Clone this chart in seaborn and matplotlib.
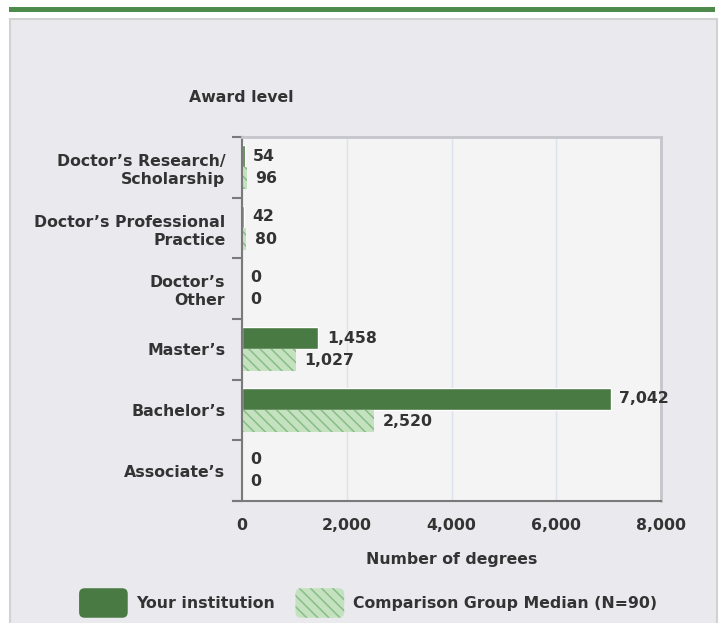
import seaborn as sns
import matplotlib.pyplot as plt
import numpy as np
import pandas as pd
from matplotlib.patches import Rectangle, Patch, FancyBboxPatch
from matplotlib.legend_handler import HandlerPatch

categories = ["Doctor’s Research/\nScholarship", "Doctor’s Professional\nPractice",
              "Doctor’s\nOther", "Master’s", "Bachelor’s", "Associate’s"]
your_inst = [54, 42, 0, 1458, 7042, 0]
comparison = [96, 80, 0, 1027, 2520, 0]
series = ["Your institution", "Comparison Group Median (N=90)"]
xticks = [0, 2000, 4000, 6000, 8000]

dark_green = '#4a7a43'
light_green = '#c4e2c0'
hatch_green = '#88bd85'
text_col = '#333333'

df = pd.DataFrame({
    'level': categories * 2,
    'series': [series[0]] * len(categories) + [series[1]] * len(categories),
    'value': your_inst + comparison,
})

sns.set_style('white')
plt.rcParams['font.family'] = ['DejaVu Sans']
plt.rcParams['font.weight'] = 'bold'
plt.rcParams['hatch.color'] = hatch_green
plt.rcParams['hatch.linewidth'] = 1.1
fs = 11.3

fig = plt.figure(figsize=(7.23, 6.23), dpi=100, facecolor='white')
# panel background + green header line
fig.patches.append(Rectangle((10/723, -0.01), 707/723, (623-19)/623 + 0.01, transform=fig.transFigure,
                             facecolor='#e9e9ee', edgecolor='#d2d2d2', lw=1.5, zorder=-2))
fig.patches.append(Rectangle((9/723, 1-12/623), 706/723, 5/623, transform=fig.transFigure,
                             facecolor='#4e8a4b', edgecolor='none', zorder=-2))

ax = fig.add_axes([242/723, 1-501/623, (661-242)/723, (501-137)/623])
sns.barplot(data=df, y='level', x='value', hue='series', orient='h', width=0.73,
            palette={series[0]: dark_green, series[1]: light_green},
            saturation=1, legend=False, ax=ax)

for bar in ax.containers[1]:
    bar.set_hatch('\\\\\\')
    bar.set_edgecolor(hatch_green)
    bar.set_linewidth(0)

for cont, vals in zip(ax.containers, [your_inst, comparison]):
    ax.bar_label(cont, labels=[f"{v:,}" for v in vals], padding=6,
                 fontsize=fs, fontweight='bold', color=text_col)

ax.set_facecolor('#f4f4f4')
ax.set_xlim(0, 8000)
ax.set_xticks(xticks)
ax.set_xticklabels([f"{t:,}" for t in xticks], fontsize=fs, color=text_col)
ax.set_yticks(range(len(categories)))
ax.set_yticklabels(categories, fontsize=fs, color=text_col, linespacing=1.25)
ax.set_yticks(np.arange(-0.5, len(categories), 1), minor=True)
ax.tick_params(axis='y', which='major', left=False, length=0, pad=12)
ax.tick_params(axis='y', which='minor', left=True, length=7, width=1.5, color='#7a7a7a')
ax.tick_params(axis='x', length=0, pad=12)
ax.xaxis.grid(True, color='#dbe2ee', lw=1)
ax.set_axisbelow(True)
ax.set_ylabel('')
ax.set_xlabel('Number of degrees', fontsize=fs, fontweight='bold', color=text_col, labelpad=14)

for s in ['left', 'bottom']:
    ax.spines[s].set_color('#7a7a7a')
    ax.spines[s].set_linewidth(1.5)
for s in ['top', 'right']:
    ax.spines[s].set_color('#c5c5cc')
    ax.spines[s].set_linewidth(2)
ax.spines['bottom'].set_bounds(-170, 8000)

fig.text(241/723, 1-98/623, 'Award level', ha='center', va='center', fontsize=fs, color=text_col)


def rounded(legend, orig_handle, xdescent, ydescent, width, height, fontsize):
    return FancyBboxPatch((-xdescent, -ydescent - 3), width, height + 6,
                          boxstyle='round,pad=0,rounding_size=4')


handles = [Patch(facecolor=dark_green, edgecolor='none'),
           Patch(facecolor=light_green, edgecolor=hatch_green, lw=0, hatch='\\\\\\')]
leg = fig.legend(handles, series, loc='center', bbox_to_anchor=(368/723, 1-603/623), ncol=2,
                 frameon=False, fontsize=fs, handlelength=3.1, handleheight=1.7,
                 handletextpad=0.55, columnspacing=1.3,
                 handler_map={Patch: HandlerPatch(patch_func=rounded)})
for t in leg.get_texts():
    t.set_color(text_col)

plt.savefig('out.png', dpi=100, facecolor='white')
